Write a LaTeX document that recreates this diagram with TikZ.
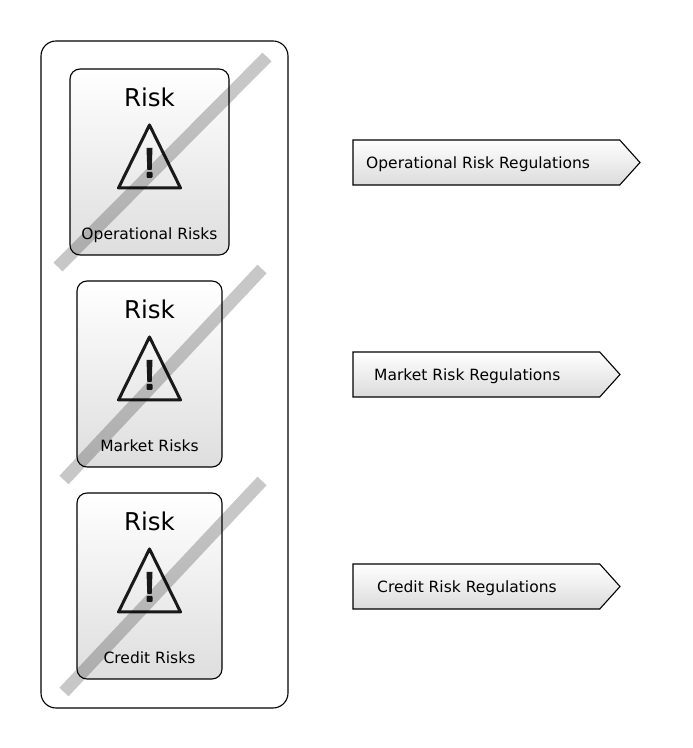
\documentclass[tikz,border=0pt]{standalone}
\usepackage{fontspec}
\setmainfont{DejaVu Sans}
\usetikzlibrary{shapes.symbols,positioning}
\tikzset{
    panel/.style={draw,line width=1.1pt,rounded corners=15pt,minimum width=247pt,minimum height=667pt,outer sep=0pt},
    card/.style={draw,line width=1.1pt,rounded corners=10pt,top color=white,bottom color=black!13,minimum height=186pt,outer sep=0pt},
    flag/.style={draw,line width=1.1pt,shape=signal,signal to=east,signal pointer angle=96,top color=white,bottom color=black!14,minimum height=45pt,inner sep=0pt,outer sep=0pt,anchor=west},
    title/.style={font=\fontsize{24.5}{27}\selectfont,inner sep=0pt},
    caption/.style={font=\fontsize{15.5}{18}\selectfont,inner sep=0pt,text depth=0pt},
    strike/.style={line width=12.5pt,black,opacity=0.22},
    warnsign/.pic={
        \draw[line width=3pt,line join=round,black!90] (-31,-32) -- (0,31) -- (31,-32) -- cycle;
        \fill[black!90] (-3,8) -- (3,8) -- (2.2,-14) -- (-2.2,-14) -- cycle;
        \fill[black!90,rounded corners=1pt] (-3,-16) rectangle (3,-22);
    }
}
\begin{document}
\begin{tikzpicture}[x=1pt,y=1pt]
    \useasboundingbox (0,0) rectangle (693,748);
    \node[panel] (outer) at (164.5,373.5) {};

    % Risk cards
    \node[card,minimum width=159pt] (opcard) at (149.5,586) {};
    \node[card,minimum width=145pt] (mktcard) [below=26pt of opcard] {};
    \node[card,minimum width=145pt] (crdcard) [below=26pt of mktcard] {};

    \node[title] (optitle) [below=19pt of opcard.north] {Risk};
    \node[title] (mkttitle) [below=19pt of mktcard.north] {Risk};
    \node[title] (crdtitle) [below=19pt of crdcard.north] {Risk};

    \pic at ([yshift=-87pt]opcard.north) {warnsign};
    \pic at ([yshift=-87pt]mktcard.north) {warnsign};
    \pic at ([yshift=-87pt]crdcard.north) {warnsign};

    \node[caption] (oplabel) [above=15pt of opcard.south] {Operational Risks};
    \node[caption] (mktlabel) [above=15pt of mktcard.south] {Market Risks};
    \node[caption] (crdlabel) [above=15pt of crdcard.south] {Credit Risks};

    % Regulations
    \node[flag,minimum width=287pt] (opflag) at (353,585.5) {};
    \node[flag,minimum width=267pt] (mktflag) at (353,373.5) {};
    \node[flag,minimum width=267pt] (crdflag) at (353,161.5) {};

    \node[caption,anchor=west] (opreg) at ([xshift=13pt]opflag.west) {Operational Risk Regulations};
    \node[caption,anchor=west] (mktreg) at ([xshift=21pt]mktflag.west) {Market Risk Regulations};
    \node[caption,anchor=west] (crdreg) at ([xshift=24pt]crdflag.west) {Credit Risk Regulations};

    % Strike-through bands
    \draw[strike] (58,481) -- (267,691);
    \draw[strike] (64,268) -- (262,479);
    \draw[strike] (64,56) -- (262,267);
\end{tikzpicture}
\end{document}
